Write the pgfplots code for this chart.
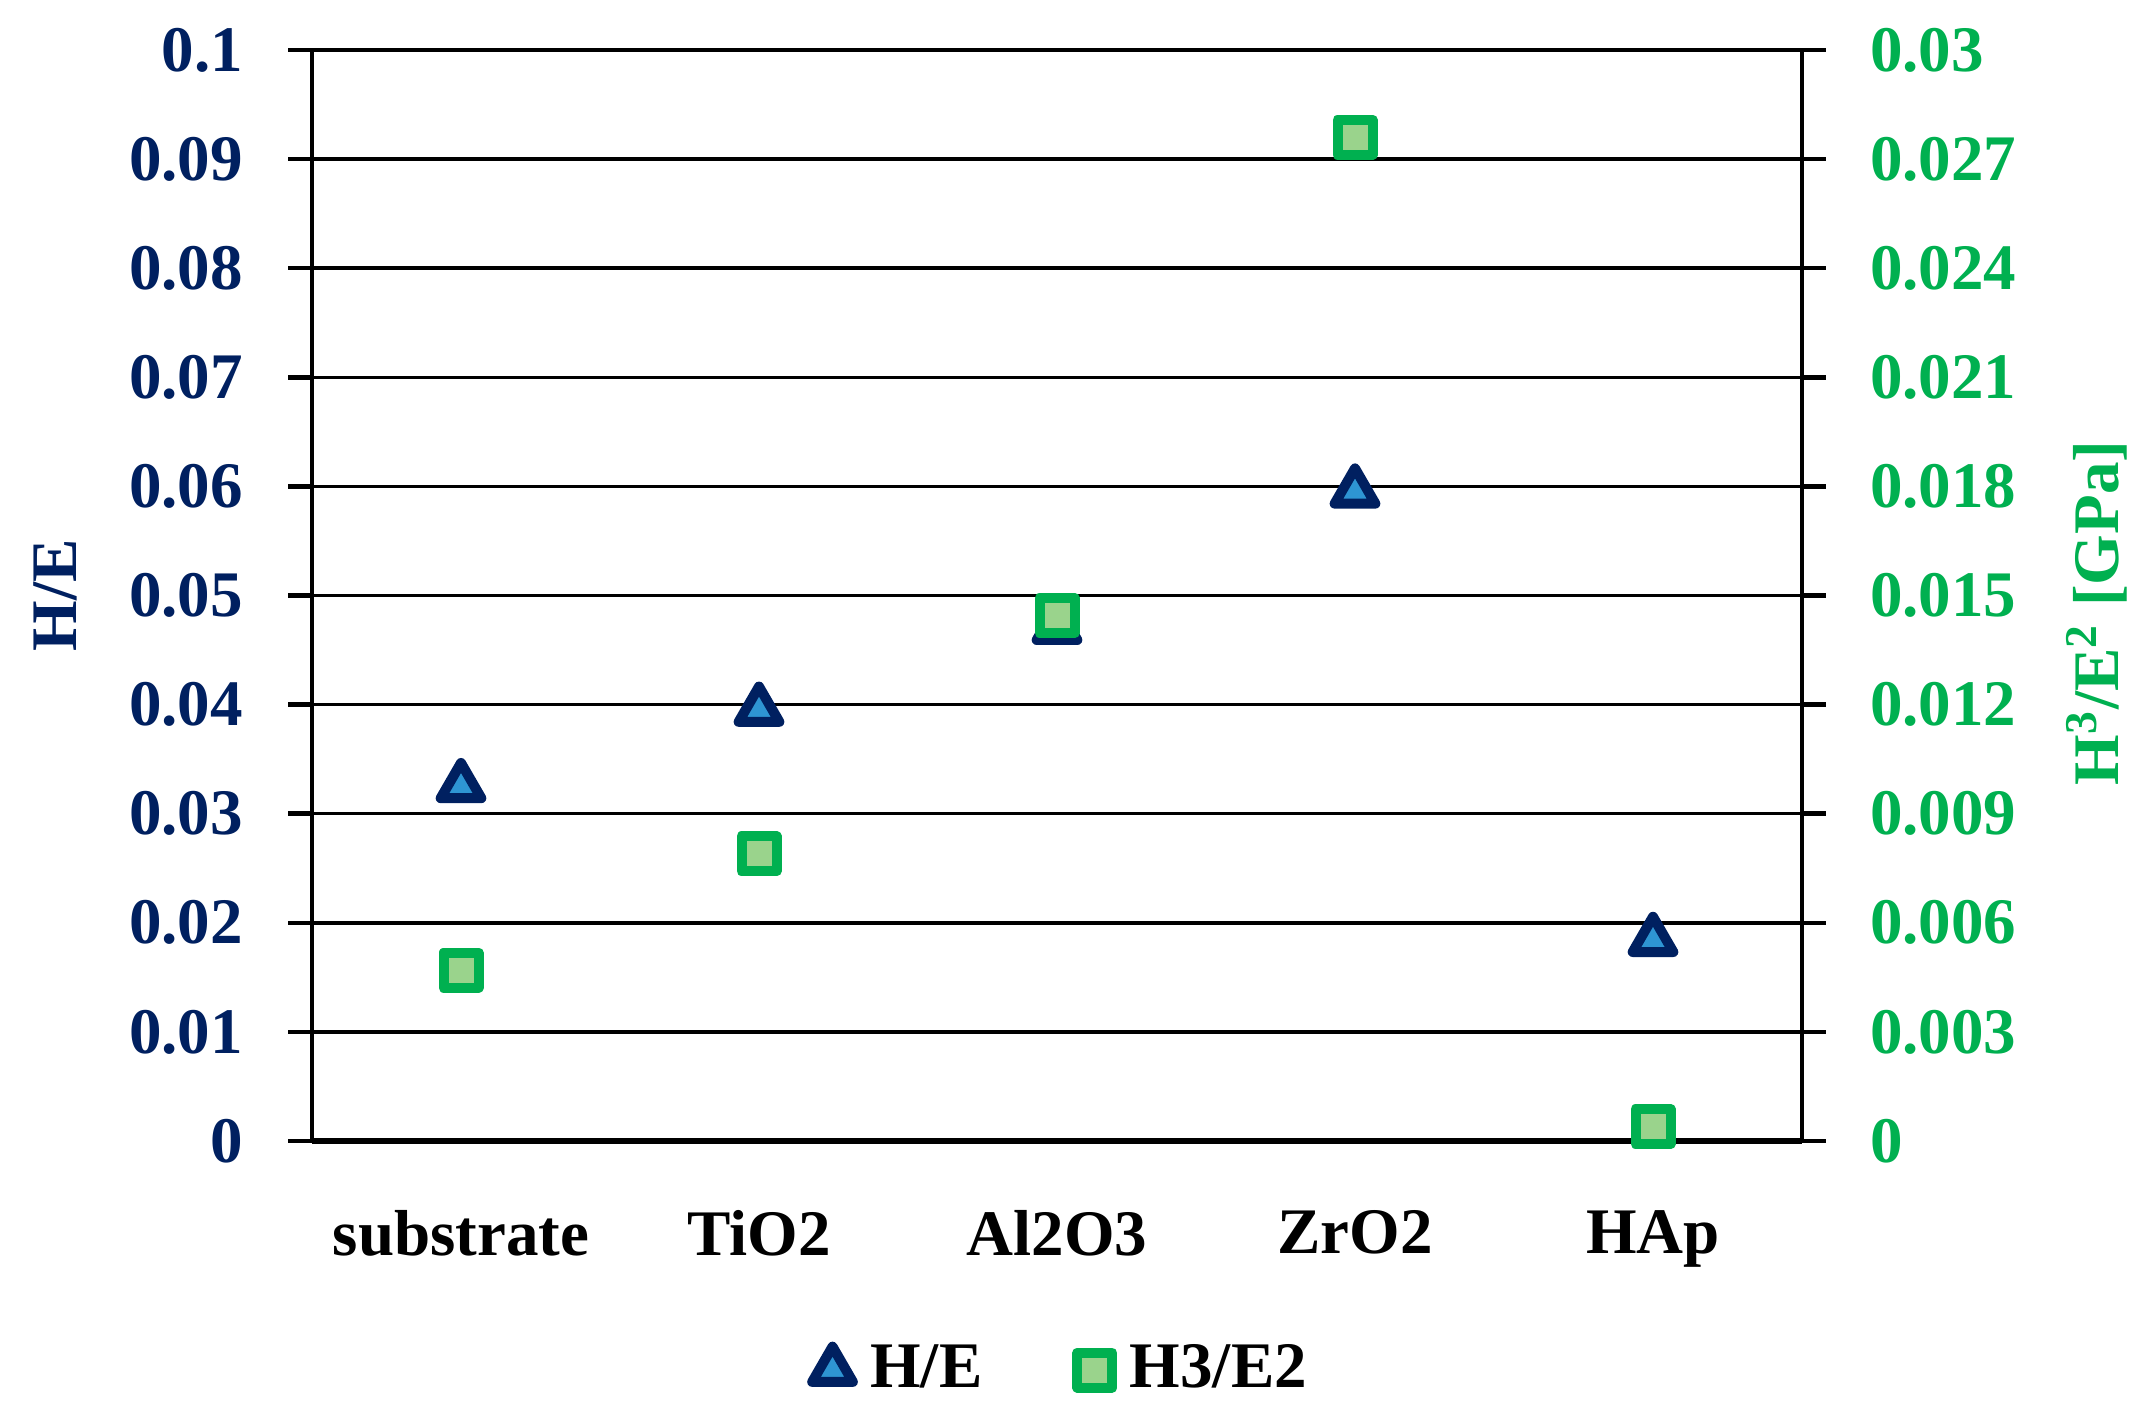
\documentclass[border=0pt]{standalone}
\usepackage{fontspec}
\setmainfont{Liberation Serif}
\usepackage{pgfplots}
\pgfplotsset{compat=1.18}
\definecolor{navy}{HTML}{002060}
\definecolor{xlgreen}{HTML}{00B050}
\definecolor{tribl}{HTML}{2E95D3}
\definecolor{sqfill}{HTML}{9AD38C}

\pgfplotsset{
  base/.style={
    scale only axis, width=298pt, height=218.2pt,
    xmin=-0.5, xmax=4.5, clip=false,
    scaled y ticks=false,
    /pgf/number format/assume math mode=true,
    tick align=outside, major tick length=4.7pt,
    every tick/.style={black, line width=0.9pt},
  },
  hemark/.style={only marks, mark=triangle*, mark size=4.7pt,
    mark options={draw=navy, fill=tribl, line width=2pt, line join=round}},
  h3mark/.style={only marks, mark=square*, mark size=3.5pt,
    mark options={draw=xlgreen, fill=sqfill, line width=2pt, line join=round}},
}

\begin{document}
\begin{tikzpicture}[font=\fontsize{13}{15}\selectfont\bfseries]
\begin{axis}[base, name=ax,
    axis x line*=bottom, axis y line*=left,
    ymin=0, ymax=0.1,
    ytick={0,0.01,0.02,0.03,0.04,0.05,0.06,0.07,0.08,0.09,0.1},
    yticklabels={0,0.01,0.02,0.03,0.04,0.05,0.06,0.07,0.08,0.09,0.1},
    yticklabel style={text=navy, xshift=-5.6pt},
    xtick={0,1,2,3,4},
    xticklabels={substrate,TiO2,Al2O3,ZrO2,HAp},
    x tick style={draw=none},
    xticklabel style={yshift=-5.7pt},
    ymajorgrids, grid style={black, line width=0.7pt},
    x axis line style={line width=1.1pt},
    y axis line style={line width=0.9pt},
    ylabel={H/E},
    every axis y label/.style={at={(axis description cs:0,0.5)},
      xshift=-51.4pt, rotate=90, anchor=center, text=navy},
]
\addplot[hemark] coordinates {(0,0.0325) (1,0.0395) (2,0.047) (3,0.0595) (4,0.0184)};
\end{axis}

\begin{axis}[base,
    axis x line=none, axis y line*=right,
    ymin=0, ymax=0.03,
    ytick={0,0.003,0.006,0.009,0.012,0.015,0.018,0.021,0.024,0.027,0.03},
    yticklabels={0,0.003,0.006,0.009,0.012,0.015,0.018,0.021,0.024,0.027,0.03},
    yticklabel style={text=xlgreen, xshift=5.4pt},
    y axis line style={line width=0.9pt},
    ylabel={H\textsuperscript{3}/E\textsuperscript{2} [GPa]},
    every axis y label/.style={at={(axis description cs:1,0.5)},
      xshift=59pt, yshift=-3.5pt, rotate=90, anchor=center, text=xlgreen},
    legend columns=2,
    legend style={at={(axis description cs:0.5,-0.21)}, anchor=center,
      xshift=1.5pt,
      draw=none, fill=none, font=\fontsize{13}{15}\selectfont\bfseries,
      /tikz/every odd column/.append style={column sep=1.5pt},
      /tikz/every even column/.append style={column sep=17pt}},
]
\addlegendimage{hemark}
\addlegendentry{H/E}
\addplot[h3mark] coordinates {(0,0.0047) (1,0.0079) (2,0.01445) (3,0.0276) (4,0.0004)};
\addlegendentry{H3/E2}
\end{axis}

\pgfresetboundingbox
\path[use as bounding box] (ax.south west) ++(-62.4pt,-53.6pt) rectangle ++(429.8pt,281.8pt);
\end{tikzpicture}
\end{document}
